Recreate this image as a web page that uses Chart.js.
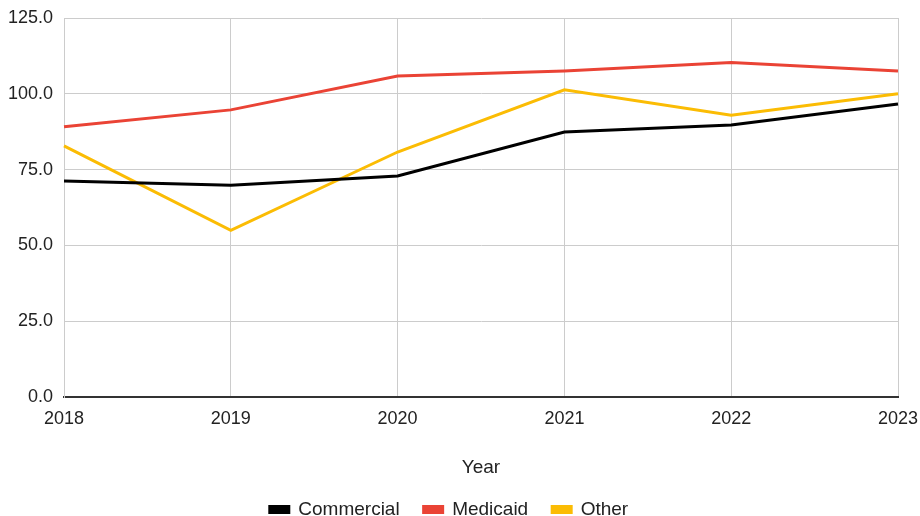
<!DOCTYPE html>
<html>
<head>
<meta charset="utf-8">
<script src="https://cdn.jsdelivr.net/npm/chart.js@4/dist/chart.umd.min.js"></script>
<style>
  html, body { margin: 0; padding: 0; background: #fff; }
  #wrap { width: 920px; height: 516px; }
</style>
</head>
<body>
<div id="wrap"><canvas id="chart" width="920" height="516"></canvas></div>
<script>
// data
const years = ['2018', '2019', '2020', '2021', '2022', '2023'];
const commercial = [71.2, 69.8, 72.9, 87.4, 89.7, 96.6];
const medicaid = [89.1, 94.7, 105.9, 107.5, 110.3, 107.5];
const other = [82.8, 55.0, 80.8, 101.3, 92.9, 100.0];

const FONT = 'Liberation Sans, Arial, sans-serif';
const GRID = '#cccccc';
const TEXT = '#222222';

const lineDs = (label, data, color) => ({
  label, data,
  borderColor: color, backgroundColor: color,
  borderWidth: 3, pointRadius: 0, tension: 0, fill: false
});

new Chart(document.getElementById('chart'), {
  type: 'line',
  data: {
    labels: years,
    datasets: [
      lineDs('Commercial', commercial, '#000000'),
      lineDs('Medicaid', medicaid, '#ea4335'),
      lineDs('Other', other, '#fbbc04')
    ]
  },
  options: {
    responsive: false, animation: false,
    layout: { autoPadding: false, padding: { top: 18, right: 22, bottom: 0, left: 0 } },
    plugins: {
      tooltip: { enabled: false },
      legend: {
        position: 'bottom',
        maxHeight: 40,
        labels: { color: TEXT, font: { family: FONT, size: 19 }, boxWidth: 19, boxHeight: 6, padding: 24 }
      }
    },
    scales: {
      x: {
        offset: false,
        grid: { color: GRID, lineWidth: 1, drawTicks: false },
        border: { color: '#333333', width: 2 },
        ticks: { color: TEXT, font: { family: FONT, size: 18 }, padding: 11, maxRotation: 0 },
        title: { display: true, text: 'Year', color: TEXT, font: { family: FONT, size: 19 }, padding: { top: 20, bottom: -3 } },
        afterFit: s => { s.height = 79; s.paddingLeft = 0; s.paddingRight = 0; }
      },
      y: {
        min: 0, max: 125,
        grid: { color: GRID, lineWidth: 1, drawTicks: false },
        border: { color: GRID, width: 1 },
        ticks: { stepSize: 25, color: TEXT, font: { family: FONT, size: 18 }, padding: 11, callback: v => v.toFixed(1) },
        afterFit: s => { s.width = 64; s.paddingTop = 0; s.paddingBottom = 0; }
      }
    }
  }
});
</script>
</body>
</html>
